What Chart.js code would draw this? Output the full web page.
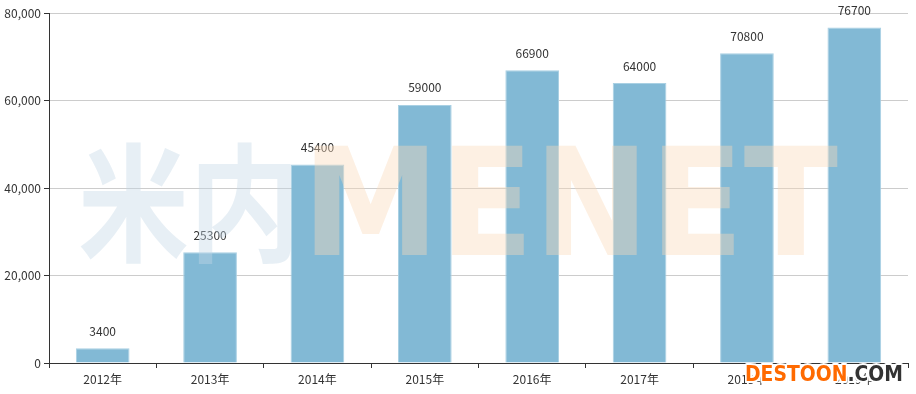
<!DOCTYPE html>
<html>
<head>
<meta charset="utf-8">
<script src="https://cdn.jsdelivr.net/npm/chart.js@4.4.0/dist/chart.umd.min.js"></script>
<style>
  html, body { margin: 0; padding: 0; background: #fff; }
  #wrap { width: 916px; height: 394px; }
</style>
</head>
<body>
<div id="wrap"><canvas id="chart" width="916" height="394"></canvas></div>
<script>
const years = ['2012年', '2013年', '2014年', '2015年', '2016年', '2017年', '2018年', '2019年'];
const values = [3400, 25300, 45400, 59000, 66900, 64000, 70800, 76700];
const yTicks = [0, 20000, 40000, 60000, 80000];

const fontFamily = '"Noto Sans CJK SC", "Noto Sans", sans-serif';

// value labels above each bar
const barLabels = {
    id: 'barLabels',
    afterDatasetsDraw(chart) {
        const ctx = chart.ctx;
        const meta = chart.getDatasetMeta(0);
        ctx.save();
        ctx.font = '12px ' + fontFamily;
        ctx.fillStyle = '#333';
        ctx.textAlign = 'center';
        ctx.textBaseline = 'bottom';
        meta.data.forEach((bar, i) => {
            ctx.fillText(String(values[i]), bar.x, bar.y - 11);
        });
        ctx.restore();
    }
};

// draw text squeezed into a given width
function fitText(ctx, text, x, y, width, stroke) {
    const w = ctx.measureText(text).width;
    ctx.save();
    ctx.translate(x, y);
    ctx.scale(width / w, 1);
    if (stroke) ctx.strokeText(text, 0, 0);
    ctx.fillText(text, 0, 0);
    ctx.restore();
}

// site watermarks
const watermark = {
    id: 'watermark',
    afterDraw(chart) {
        const ctx = chart.ctx;
        ctx.save();
        ctx.textBaseline = 'alphabetic';
        ctx.textAlign = 'left';
        ctx.globalAlpha = 0.4;
        ctx.font = 'bold 128px ' + fontFamily;
        ctx.fillStyle = '#c3d8e6';
        fitText(ctx, '米内', 78, 252, 222);
        ctx.font = 'bold 150px "DejaVu Sans", sans-serif';
        ctx.fillStyle = '#fbd9b8';
        fitText(ctx, 'MENET', 302, 255, 536);
        ctx.globalAlpha = 1;
        ctx.font = 'bold 22px "DejaVu Sans", sans-serif';
        ctx.lineWidth = 4;
        ctx.strokeStyle = '#fff';
        ctx.lineJoin = 'round';
        const full = ctx.measureText('DESTOON.COM').width;
        const part = ctx.measureText('DESTOON').width;
        const k = 158 / full;
        ctx.fillStyle = '#ff6a00';
        fitText(ctx, 'DESTOON', 745, 381, part * k, true);
        ctx.fillStyle = '#333';
        fitText(ctx, '.COM', 745 + part * k, 381, (full - part) * k, true);
        ctx.restore();
    }
};

new Chart(document.getElementById('chart'), {
    type: 'bar',
    data: {
        labels: years,
        datasets: [{
            data: values,
            backgroundColor: '#82b9d5',
            borderColor: '#a9d0e3',
            borderWidth: 1,
            categoryPercentage: 1,
            barPercentage: 0.5
        }]
    },
    options: {
        responsive: false,
        animation: false,
        devicePixelRatio: 1,
        layout: { padding: { top: 13, right: 8, left: 0, bottom: 0 } },
        plugins: {
            legend: { display: false },
            tooltip: { enabled: false }
        },
        scales: {
            x: {
                afterFit(scale) { scale.height = 31; },
                grid: {
                    offset: true,
                    drawOnChartArea: false,
                    drawTicks: true,
                    tickLength: 5,
                    tickColor: '#333'
                },
                border: { color: '#333', width: 1 },
                ticks: {
                    color: '#333',
                    padding: 4,
                    autoSkip: false,
                    maxRotation: 0,
                    font: { size: 12, family: fontFamily }
                }
            },
            y: {
                min: 0,
                max: 80000,
                afterFit(scale) { scale.width = 49; },
                afterBuildTicks(scale) { scale.ticks = yTicks.map(v => ({ value: v })); },
                grid: {
                    color: '#cccccc',
                    tickLength: 5,
                    tickColor: '#333'
                },
                border: { color: '#333', width: 1 },
                ticks: {
                    color: '#333',
                    padding: 3,
                    font: { size: 12, family: fontFamily },
                    callback: v => v.toLocaleString('en-US')
                }
            }
        }
    },
    plugins: [barLabels, watermark]
});
</script>
</body>
</html>
